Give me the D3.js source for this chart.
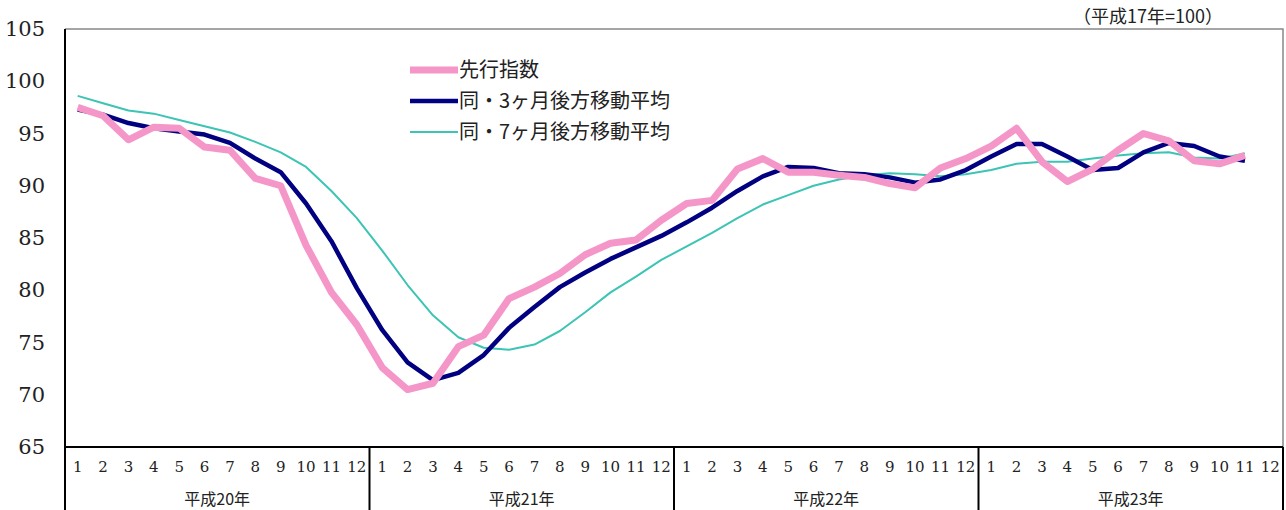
<!DOCTYPE html>
<html>
<head>
<meta charset="utf-8">
<script src="https://cdn.jsdelivr.net/npm/d3@7"></script>
<style>
body { margin: 0; background: #fff; }
text { fill: #222; }
.num { font-family: "DejaVu Serif", "Liberation Serif", serif; }
.jp { font-family: "Noto Sans CJK JP", sans-serif; }
</style>
</head>
<body>
<script>
// chart size
var w = 1286, h = 510;

// categories
var years = ["平成20年", "平成21年", "平成22年", "平成23年"];
var monthLabels = ["1","2","3","4","5","6","7","8","9","10","11","12"];
var yTicks = [65, 70, 75, 80, 85, 90, 95, 100, 105];

// series values (H20.1 - H23.11)
var leading = [97.5, 96.7, 94.4, 95.6, 95.5, 93.7, 93.4, 90.7, 90.0, 84.3, 79.8, 76.7,
    72.6, 70.5, 71.1, 74.6, 75.7, 79.2, 80.3, 81.6, 83.4, 84.5, 84.8, 86.7,
    88.3, 88.6, 91.6, 92.6, 91.3, 91.3, 91.0, 90.8, 90.2, 89.8, 91.7, 92.6,
    93.8, 95.5, 92.3, 90.4, 91.6, 93.4, 95.0, 94.3, 92.4, 92.1, 92.9];
var ma3 = [97.3, 96.8, 96.0, 95.5, 95.2, 94.9, 94.1, 92.6, 91.3, 88.3, 84.7, 80.2,
    76.2, 73.1, 71.4, 72.1, 73.8, 76.4, 78.4, 80.3, 81.7, 83.0, 84.1, 85.2,
    86.5, 87.9, 89.5, 90.9, 91.8, 91.7, 91.2, 91.1, 90.8, 90.3, 90.6, 91.5,
    92.8, 94.0, 94.0, 92.8, 91.5, 91.7, 93.2, 94.1, 93.8, 92.8, 92.4];
var ma7 = [98.6, 97.9, 97.2, 96.9, 96.3, 95.7, 95.1, 94.2, 93.2, 91.8, 89.5, 86.9,
    83.8, 80.5, 77.6, 75.5, 74.5, 74.3, 74.8, 76.1, 77.9, 79.8, 81.3, 82.9,
    84.2, 85.5, 86.9, 88.2, 89.1, 90.0, 90.6, 91.0, 91.2, 91.1, 90.9, 91.1,
    91.5, 92.1, 92.3, 92.3, 92.6, 92.9, 93.1, 93.2, 92.7, 92.6, 93.1];

var seriesNames = ["先行指数", "同・3ヶ月後方移動平均", "同・7ヶ月後方移動平均"];

window.onload = function () {
    var left = 65, right = 1283, top = 29, bottom = 447;

    var svg = d3.select("body").append("svg")
        .attr("width", w)
        .attr("height", h);

    // every month slot, 4 years x 12
    var slots = [];
    years.forEach(function (y, yi) {
        monthLabels.forEach(function (m, mi) { slots.push(yi * 12 + mi); });
    });

    var x = d3.scaleBand().domain(slots).range([left, right]);
    var xYear = d3.scaleBand().domain(years).range([left, right]);
    var y = d3.scaleLinear().domain([65, 105]).range([bottom, top]);

    // plot frame (top and right in gray)
    svg.append("path")
        .attr("d", "M" + left + "," + top + "H" + right + "V" + bottom)
        .attr("fill", "none")
        .attr("stroke", "#888")
        .attr("stroke-width", 1.5);

    // y axis
    var yAxis = svg.append("g")
        .attr("transform", "translate(" + left + ",0)")
        .call(d3.axisLeft(y).tickValues(yTicks).tickSize(0).tickPadding(20));
    yAxis.select(".domain").remove();
    yAxis.selectAll("text")
        .attr("class", "num")
        .style("font-size", "21px")
        .attr("fill", "#222");

    // category box under the plot
    svg.append("line")
        .attr("x1", left).attr("x2", right)
        .attr("y1", bottom).attr("y2", bottom)
        .attr("stroke", "#000").attr("stroke-width", 2);
    svg.append("line")
        .attr("x1", left).attr("x2", left)
        .attr("y1", top).attr("y2", h)
        .attr("stroke", "#000").attr("stroke-width", 2);
    svg.selectAll(".sep")
        .data(years)
        .enter()
        .append("line")
        .attr("class", "sep")
        .attr("x1", function (d) { return xYear(d) + xYear.bandwidth(); })
        .attr("x2", function (d) { return xYear(d) + xYear.bandwidth(); })
        .attr("y1", bottom).attr("y2", h)
        .attr("stroke", "#000").attr("stroke-width", 2);

    svg.selectAll(".mlab")
        .data(slots)
        .enter()
        .append("text")
        .attr("class", "mlab num")
        .attr("x", function (d) { return x(d) + x.bandwidth() / 2; })
        .attr("y", 472)
        .attr("text-anchor", "middle")
        .style("font-size", "15px")
        .text(function (d) { return monthLabels[d % 12]; });

    svg.selectAll(".ylab")
        .data(years)
        .enter()
        .append("text")
        .attr("class", "ylab jp")
        .attr("x", function (d) { return xYear(d) + xYear.bandwidth() / 2; })
        .attr("y", 505)
        .attr("text-anchor", "middle")
        .style("font-size", "16px")
        .text(function (d) { return d; });

    // lines
    var line = d3.line()
        .x(function (d, i) { return x(slots[i]) + x.bandwidth() / 2; })
        .y(function (d) { return y(d); });

    var styles = [
        { data: ma7, color: "#3cc4b4", width: 2 },
        { data: ma3, color: "#000080", width: 4.5 },
        { data: leading, color: "#f596c8", width: 7 }
    ];
    styles.forEach(function (s) {
        svg.append("path")
            .datum(s.data)
            .attr("d", line)
            .attr("fill", "none")
            .attr("stroke", s.color)
            .attr("stroke-width", s.width)
            .attr("stroke-linejoin", "round");
    });

    // legend
    var legendStyle = [
        { color: "#f596c8", width: 7 },
        { color: "#000080", width: 4.5 },
        { color: "#3cc4b4", width: 2 }
    ];
    var legend = svg.selectAll(".legend")
        .data(seriesNames)
        .enter()
        .append("g")
        .attr("class", "legend")
        .attr("transform", function (d, i) { return "translate(410," + (70 + i * 31) + ")"; });
    legend.append("line")
        .attr("x1", 0).attr("x2", 48)
        .attr("stroke", function (d, i) { return legendStyle[i].color; })
        .attr("stroke-width", function (d, i) { return legendStyle[i].width; });
    legend.append("text")
        .attr("class", "jp")
        .attr("x", 49)
        .attr("y", 7)
        .style("font-size", "20px")
        .text(function (d) { return d; });

    // base year note
    svg.append("text")
        .attr("class", "jp")
        .attr("x", 1148)
        .attr("y", 23)
        .attr("text-anchor", "middle")
        .style("font-size", "18px")
        .text("（平成17年=100）");
};
</script>
</body>
</html>
